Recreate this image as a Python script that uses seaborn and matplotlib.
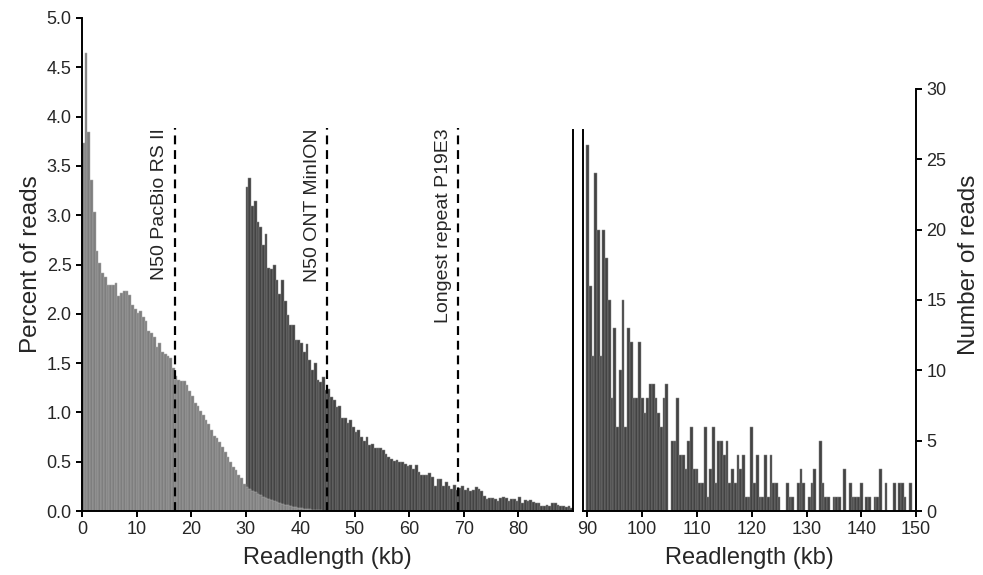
import numpy as np
import pandas as pd
import seaborn as sns
import matplotlib.pyplot as plt
from matplotlib.ticker import FormatStrFormatter

# percent of reads per 0.5 kb bin, lighter histogram (starts at 0 kb)
light_pct = [3.73, 4.64, 3.84, 3.36, 3.03, 2.64, 2.52, 2.41, 2.37, 2.29,
             2.29, 2.29, 2.31, 2.18, 2.21, 2.23, 2.23, 2.19, 2.09, 2.05,
             2.01, 2.03, 1.97, 1.93, 1.83, 1.81, 1.76, 1.66, 1.70, 1.61,
             1.59, 1.57, 1.55, 1.45, 1.37, 1.33, 1.32, 1.32, 1.28, 1.22,
             1.17, 1.10, 1.06, 1.01, 0.97, 0.92, 0.88, 0.82, 0.76, 0.74,
             0.70, 0.65, 0.60, 0.55, 0.50, 0.45, 0.42, 0.37, 0.33, 0.27,
             0.24, 0.22, 0.20, 0.19, 0.17, 0.16, 0.14, 0.13, 0.12, 0.11,
             0.10, 0.09, 0.08, 0.07, 0.06, 0.06, 0.05, 0.04, 0.04, 0.03,
             0.03, 0.02, 0.02, 0.02, 0.01, 0.01, 0.01, 0.01, 0.0, 0.0]
light_start = 0.0

# percent of reads per 0.5 kb bin, darker histogram (starts at 30 kb)
dark_pct = [3.29, 3.38, 3.09, 3.14, 2.93, 2.88, 2.70, 2.81, 2.46, 2.45,
            2.49, 2.34, 2.20, 2.34, 2.13, 1.99, 1.89, 1.89, 1.73, 1.73,
            1.70, 1.61, 1.69, 1.53, 1.43, 1.50, 1.33, 1.31, 1.36, 1.23,
            1.24, 1.16, 1.13, 1.05, 1.06, 0.94, 0.94, 0.89, 0.92, 0.85,
            0.80, 0.82, 0.75, 0.71, 0.75, 0.67, 0.68, 0.64, 0.64, 0.64,
            0.62, 0.58, 0.55, 0.53, 0.51, 0.52, 0.50, 0.50, 0.48, 0.46,
            0.47, 0.43, 0.47, 0.40,
            0.365, 0.37, 0.365, 0.39, 0.34, 0.25, 0.32, 0.32, 0.25, 0.29,
            0.25, 0.22, 0.26, 0.21, 0.23, 0.25, 0.21, 0.23, 0.20, 0.21,
            0.24, 0.22, 0.20, 0.15, 0.12, 0.13, 0.13, 0.12, 0.10, 0.13,
            0.14, 0.13, 0.10, 0.12, 0.12, 0.10, 0.14, 0.08, 0.11, 0.10,
            0.11, 0.09, 0.08, 0.08, 0.05, 0.05, 0.06, 0.05, 0.08, 0.08,
            0.06, 0.05, 0.05, 0.04, 0.05, 0.03]
dark_start = 30.0

# number of reads per 0.5 kb bin, long reads (bins centred on 90, 90.5, ...)
long_counts = [26, 16, 11, 24, 20, 11, 20, 18, 15, 8,
               13, 6, 10, 15, 6, 13, 12, 8, 8, 12,
               8, 7, 8, 9, 9, 8, 7, 6, 8, 9,
               0, 5, 5, 8, 4, 4, 3, 5, 6, 3,
               3, 2, 2, 6, 1, 3, 6, 2, 5, 5,
               4, 5, 2, 3, 2, 4, 3, 4, 1, 1,
               6, 2, 4, 1, 1, 4, 1, 4, 2, 2,
               1, 0, 0, 2, 1, 1, 0, 2, 3, 2,
               0, 1, 2, 3, 0, 5, 2, 1, 1, 0,
               1, 1, 1, 0, 3, 0, 2, 1, 1, 1,
               2, 0, 1, 1, 0, 1, 1, 3, 0, 2,
               0, 0, 2, 0, 2, 2, 1, 0, 2, 0]
long_start = 90.0

marker_kb = [17, 45, 69]
marker_labels = ['N50 PacBio RS II', 'N50 ONT MinION', 'Longest repeat P19E3']

BIN = 0.5

sns.set_style("ticks")
plt.rcParams['font.family'] = ['Liberation Sans', 'DejaVu Sans']
plt.rcParams['axes.linewidth'] = 1.4

fig = plt.figure(figsize=(9.83, 5.75), dpi=100)
ax1 = fig.add_axes([0.0834, 0.1113, 0.4995, 0.8574])
ax2 = fig.add_axes([0.5931, 0.1113, 0.3388, 0.8574])

dark_df = pd.DataFrame({'kb': dark_start + BIN * np.arange(len(dark_pct)) + BIN / 2,
                        'pct': dark_pct})
light_df = pd.DataFrame({'kb': light_start + BIN * np.arange(len(light_pct)) + BIN / 2,
                         'pct': light_pct})
long_df = pd.DataFrame({'kb': long_start + BIN * np.arange(len(long_counts)),
                        'n': np.array(long_counts, dtype=float)})

sns.histplot(data=dark_df, x='kb', weights='pct', binwidth=BIN,
             binrange=(dark_start, dark_start + BIN * len(dark_pct)),
             color='#434343', edgecolor='#888888', linewidth=0.35, alpha=1, ax=ax1)
sns.histplot(data=light_df, x='kb', weights='pct', binwidth=BIN,
             binrange=(light_start, light_start + BIN * len(light_pct)),
             color='#7e7e7e', edgecolor='#ababab', linewidth=0.35, alpha=1, ax=ax1)
sns.histplot(data=long_df, x='kb', weights='n', binwidth=BIN,
             binrange=(long_start - BIN / 2, long_start + BIN * (len(long_counts) - 0.5)),
             color='#434343', edgecolor='#888888', linewidth=0.35, alpha=1, ax=ax2)

for kb, lab in zip(marker_kb, marker_labels):
    ax1.plot([kb, kb], [0, 3.88], color='black', lw=1.6, ls=(0, (4, 2.6)), zorder=5)
    ax1.annotate(lab, xy=(kb, 3.88), xytext=(-4.5, 0), textcoords='offset points',
                 rotation=90, ha='right', va='top', fontsize=14)

ax1.set_xlim(0, 90)
ax1.set_ylim(0, 5)
ax1.set_xticks(np.arange(0, 81, 10))
ax1.set_yticks(np.arange(0, 5.01, 0.5))
ax1.yaxis.set_major_formatter(FormatStrFormatter('%.1f'))
ax1.set_xlabel('Readlength (kb)', fontsize=17, labelpad=6)
ax1.set_ylabel('Percent of reads', fontsize=17.5, labelpad=3)
ax1.spines['top'].set_visible(False)
ax1.spines['right'].set_bounds(0, 3.86)

ax2.set_xlim(89.2, 150)
ax2.set_ylim(0, 35.04)
ax2.set_xticks(np.arange(90, 151, 10))
ax2.set_yticks(np.arange(0, 31, 5))
ax2.yaxis.tick_right()
ax2.yaxis.set_label_position('right')
ax2.set_xlabel('Readlength (kb)', fontsize=17, labelpad=6)
ax2.set_ylabel('Number of reads', fontsize=17.5, labelpad=8)
ax2.spines['top'].set_visible(False)
ax2.spines['left'].set_bounds(0, 27.1)
ax2.spines['right'].set_bounds(0, 30)

for ax in (ax1, ax2):
    ax.tick_params(direction='out', length=4, width=1.4, labelsize=13, color='black')
    for sp in ax.spines.values():
        sp.set_color('black')

fig.savefig('out.png', dpi=100)
